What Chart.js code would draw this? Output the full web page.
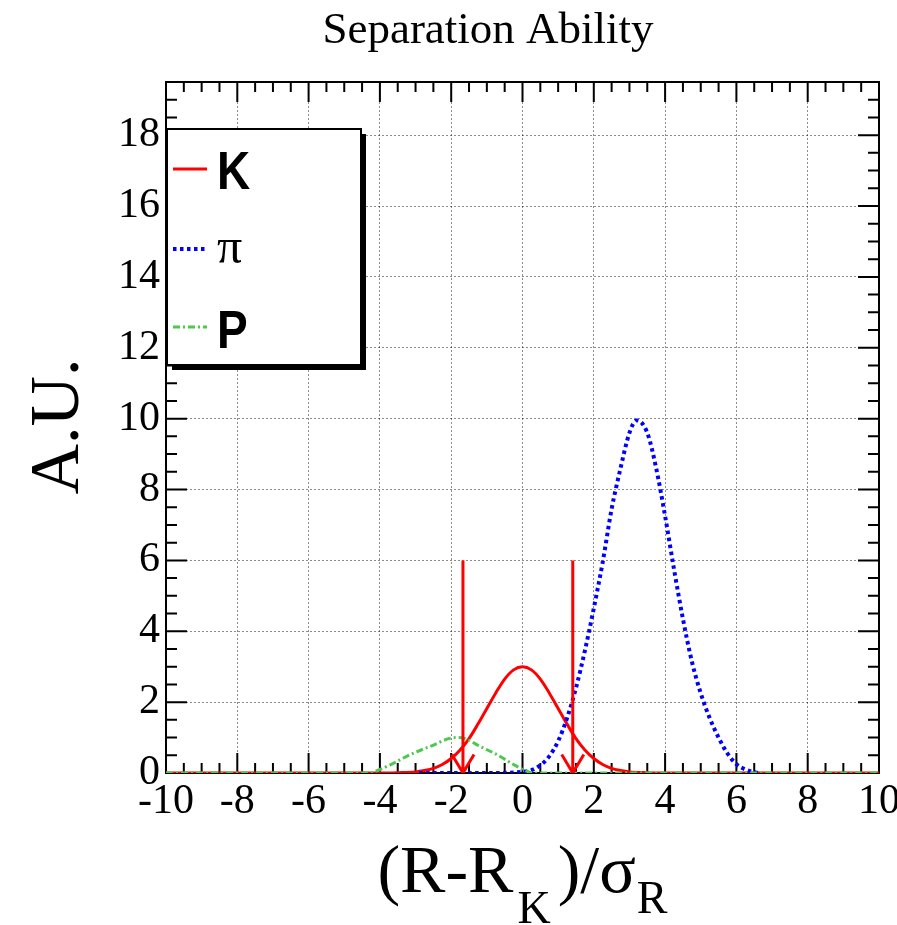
<!DOCTYPE html>
<html><head><meta charset="utf-8">
<script src="https://cdn.jsdelivr.net/npm/chart.js@4.4.0/dist/chart.umd.min.js"></script>
<style>html,body{margin:0;padding:0;background:#fff;overflow:hidden}canvas{display:block}</style>
</head><body>
<canvas id="c" width="897" height="925"></canvas>
<script>
// ---------- data ----------
const chartTitle = 'Separation Ability';
const yAxisTitle = 'A.U.';
const xTickValues = [-10, -8, -6, -4, -2, 0, 2, 4, 6, 8, 10];
const xTickLabels = ['-10', '-8', '-6', '-4', '-2', '0', '2', '4', '6', '8', '10'];
const yTickValues = [0, 2, 4, 6, 8, 10, 12, 14, 16, 18];
const yTickLabels = ['0', '2', '4', '6', '8', '10', '12', '14', '16', '18'];
const xRange = [-10, 10];
const yRange = [0, 19.5];
const seriesNames = ['K', 'π', 'P'];

const kX = [-10, -4, -3.5, -3, -2.75, -2.5, -2.25, -2, -1.75, -1.5, -1.25, -1, -0.75, -0.5, -0.25, 0, 0.25, 0.5, 0.75, 1, 1.25, 1.5, 1.75, 2, 2.25, 2.5, 2.75, 3, 3.5, 4, 10];
const kY = [0, 0, 0.01, 0.03, 0.07, 0.13, 0.24, 0.41, 0.65, 0.97, 1.38, 1.82, 2.26, 2.65, 2.91, 3.0, 2.91, 2.65, 2.26, 1.82, 1.38, 0.97, 0.65, 0.41, 0.24, 0.13, 0.07, 0.03, 0.01, 0, 0];

const piX = [-2.9, -1, 0, 0.25, 0.5, 0.75, 1, 1.25, 1.5, 1.75, 2, 2.25, 2.5, 2.75, 3, 3.2, 3.5, 3.75, 4, 4.25, 4.5, 4.75, 5, 5.25, 5.5, 5.75, 6, 6.25, 6.6];
const piY = [0, 0, 0.03, 0.08, 0.22, 0.47, 0.9, 1.55, 2.4, 3.45, 4.65, 5.95, 7.45, 8.6, 9.6, 9.95, 9.6, 8.6, 7.25, 5.75, 4.35, 3.15, 2.25, 1.55, 1.0, 0.55, 0.25, 0.1, 0];

const pX = [-10, -4.3, -4.13, -3.71, -3.15, -2.59, -1.98, -1.8, -1.61, -1.19, -0.72, -0.25, 0.12, 0.3, 10];
const pY = [0, 0, 0.05, 0.23, 0.52, 0.75, 0.99, 1.0, 0.97, 0.75, 0.52, 0.24, 0.05, 0, 0];

const cutX = [-1.67, 1.41];
const cutTop = 6;

// ---------- build ----------
const serif = "'Liberation Serif', 'Times New Roman', serif";
const sans = "'Liberation Sans', Arial, sans-serif";
const toPts = (xs, ys) => xs.map((x, i) => ({x: x, y: ys[i]}));

const headDX = 0.31, headDY = 0.52;
const arrowPts = [];
cutX.forEach(c => {
  arrowPts.push({x: c, y: cutTop}, {x: c, y: 0}, {x: c, y: null});
  arrowPts.push({x: c - headDX, y: headDY}, {x: c, y: 0}, {x: c + headDX, y: headDY}, {x: c, y: null});
});

const RED = '#ff0000', BLUE = '#0000ff', GREEN = '#4fc84f';

const datasets = [
  {label: seriesNames[0], data: toPts(kX, kY), borderColor: RED, borderWidth: 3, borderDash: [], order: 3, cubicInterpolationMode: 'monotone'},
  {label: seriesNames[1], data: toPts(piX, piY), borderColor: BLUE, borderWidth: 4, borderDash: [3.5, 3.5], order: 2, cubicInterpolationMode: 'monotone'},
  {label: seriesNames[2], data: toPts(pX, pY), borderColor: GREEN, borderWidth: 3, borderDash: [7, 3, 2, 3], order: 1, cubicInterpolationMode: 'monotone'},
  {label: 'cuts', data: arrowPts, borderColor: RED, borderWidth: 3, borderDash: [], order: 0, tension: 0, spanGaps: false}
];
datasets.forEach(d => { d.pointRadius = 0; d.pointHoverRadius = 0; d.fill = false; d.borderCapStyle = 'butt'; });

const frameTicksPlugin = {
  id: 'frameTicks',
  beforeDatasetsDraw(chart) {
    const {ctx, chartArea: a, scales: {x, y}} = chart;
    ctx.save();
    ctx.strokeStyle = '#000';
    ctx.lineWidth = 2;
    ctx.beginPath();
    for (let i = 0; xRange[0] + i * 0.5 <= xRange[1] + 1e-9; i++) {
      const px = x.getPixelForValue(xRange[0] + i * 0.5);
      const len = i % 4 === 0 ? 20 : 10;
      ctx.moveTo(px, a.bottom); ctx.lineTo(px, a.bottom - len);
      ctx.moveTo(px, a.top); ctx.lineTo(px, a.top + len);
    }
    for (let i = 0; yRange[0] + i * 0.5 <= yRange[1] + 1e-9; i++) {
      const py = y.getPixelForValue(yRange[0] + i * 0.5);
      const len = i % 4 === 0 ? 21 : 11;
      ctx.moveTo(a.left, py); ctx.lineTo(a.left + len, py);
      ctx.moveTo(a.right, py); ctx.lineTo(a.right - len, py);
    }
    ctx.stroke();
    ctx.strokeRect(a.left, a.top, a.right - a.left, a.bottom - a.top);
    ctx.restore();
  }
};

const decorPlugin = {
  id: 'decor',
  afterDatasetsDraw(chart) {
    const {ctx, chartArea: a} = chart;
    ctx.save();
    // legend box with shadow
    const L = a.left + 1, T = 129, W = 194, H = 236;
    ctx.fillStyle = '#000';
    ctx.fillRect(L + 5, T + 5, W, H);
    ctx.fillStyle = '#fff';
    ctx.fillRect(L, T, W, H);
    ctx.strokeStyle = '#000';
    ctx.lineWidth = 2;
    ctx.strokeRect(L, T, W, H);
    const rows = [
      {ds: chart.data.datasets[0], ly: 169, base: 189, font: 'bold 46px ' + sans, sy: 1.16},
      {ds: chart.data.datasets[1], ly: 249, base: 263, font: '50px ' + serif, sy: 1.0},
      {ds: chart.data.datasets[2], ly: 327, base: 348, font: 'bold 46px ' + sans, sy: 1.16}
    ];
    rows.forEach(r => {
      ctx.save();
      ctx.strokeStyle = r.ds.borderColor;
      ctx.lineWidth = r.ds.borderWidth;
      ctx.setLineDash(r.ds.borderDash || []);
      ctx.beginPath();
      ctx.moveTo(173, r.ly); ctx.lineTo(207, r.ly);
      ctx.stroke();
      ctx.restore();
      ctx.save();
      ctx.fillStyle = '#000';
      ctx.font = r.font;
      ctx.textAlign = 'left';
      ctx.textBaseline = 'alphabetic';
      ctx.translate(217, r.base);
      ctx.scale(1, r.sy);
      ctx.fillText(r.ds.label, 0, 0);
      ctx.restore();
    });
    // y axis title
    ctx.save();
    ctx.fillStyle = '#000';
    ctx.font = '70px ' + serif;
    ctx.textAlign = 'center';
    ctx.textBaseline = 'alphabetic';
    ctx.translate(78, (a.top + a.bottom) / 2 - 1);
    ctx.rotate(-Math.PI / 2);
    ctx.fillText(yAxisTitle, 0, 0);
    ctx.restore();
    // x axis title with subscripts
    const parts = [
      {t: '(R-R', f: '68px ' + serif, base: 892, gap: 4},
      {t: 'K', f: '46px ' + serif, base: 923, gap: 7},
      {t: ')/σ', f: '68px ' + serif, base: 892, gap: 1},
      {t: 'R', f: '46px ' + serif, base: 913, gap: 0}
    ];
    let total = 0;
    parts.forEach(p => { ctx.font = p.f; p.w = ctx.measureText(p.t).width; total += p.w + p.gap; });
    let cx = (a.left + a.right) / 2 - total / 2;
    ctx.fillStyle = '#000';
    ctx.textAlign = 'left';
    ctx.textBaseline = 'alphabetic';
    parts.forEach(p => { ctx.font = p.f; ctx.fillText(p.t, cx, p.base); cx += p.w + p.gap; });
    ctx.restore();
  }
};

new Chart(document.getElementById('c'), {
  type: 'line',
  data: {datasets: datasets},
  options: {
    responsive: false,
    devicePixelRatio: 1,
    animation: false,
    events: [],
    layout: {padding: {left: 97, right: 18, top: 0, bottom: 0}},
    plugins: {
      legend: {display: false},
      tooltip: {enabled: false},
      title: {
        display: true, text: chartTitle, color: '#000',
        font: {family: serif, size: 45, weight: 'normal', lineHeight: 1.2},
        padding: {top: 4, bottom: 24}
      }
    },
    scales: {
      x: {
        type: 'linear', min: xRange[0], max: xRange[1],
        afterBuildTicks: s => { s.ticks = xTickValues.map(v => ({value: v})); },
        afterFit: s => { s.height = 152; s.paddingLeft = 0; s.paddingRight = 0; },
        ticks: {
          autoSkip: false, maxRotation: 0, minRotation: 0, padding: 4, color: '#000',
          font: {family: serif, size: 42},
          callback: (v) => { const i = xTickValues.indexOf(v); return i >= 0 ? xTickLabels[i] : ''; }
        },
        grid: {color: 'rgba(0,0,0,0.45)', lineWidth: 1, drawTicks: false, borderDash: [2, 2]},
        border: {display: false, dash: [2, 2]}
      },
      y: {
        type: 'linear', min: yRange[0], max: yRange[1],
        afterBuildTicks: s => { s.ticks = yTickValues.map(v => ({value: v})); },
        afterFit: s => { s.width = 69; s.paddingTop = 0; s.paddingBottom = 0; },
        ticks: {
          autoSkip: false, padding: 6, color: '#000',
          font: {family: serif, size: 42},
          callback: (v) => { const i = yTickValues.indexOf(v); return i >= 0 ? yTickLabels[i] : ''; }
        },
        grid: {color: 'rgba(0,0,0,0.45)', lineWidth: 1, drawTicks: false, borderDash: [2, 2]},
        border: {display: false, dash: [2, 2]}
      }
    }
  },
  plugins: [frameTicksPlugin, decorPlugin]
});
</script>
</body></html>
